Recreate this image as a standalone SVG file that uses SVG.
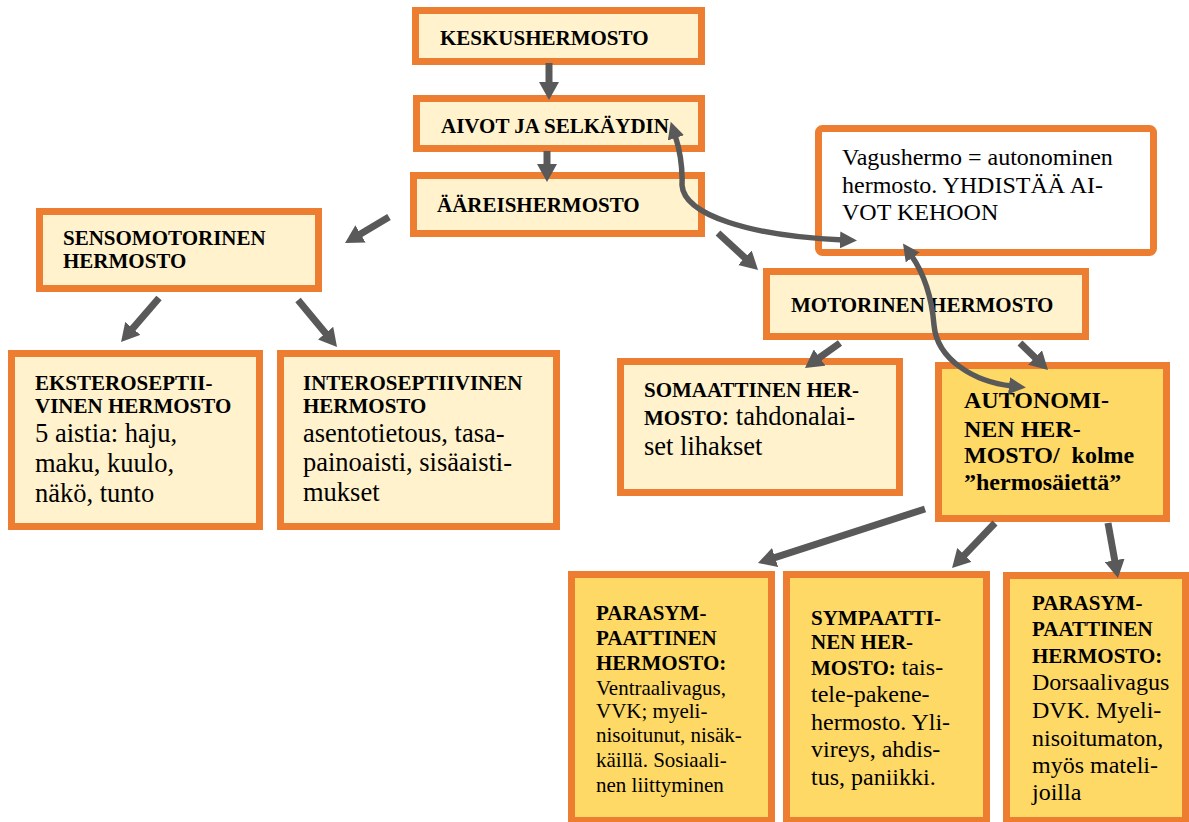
<svg xmlns="http://www.w3.org/2000/svg" width="1189" height="822" viewBox="0 0 1189 822">
<style>
.box{fill:#FFF2CC;stroke:#ED7D31;stroke-width:7}
.dark{fill:#FFD966;stroke:#ED7D31;stroke-width:7}
.white{fill:#FFFFFF;stroke:#ED7D31;stroke-width:7}
text{font-family:"Liberation Serif","Times New Roman",serif;fill:#000}
.b{font-weight:bold;font-size:21px}
.b24{font-weight:bold;font-size:24px}
.r26{font-size:26.5px}
.r24{font-size:24px}
.r21{font-size:21px}
.arr{stroke:#595959;stroke-width:7;fill:none;marker-end:url(#head)}
.cur{stroke:#595959;stroke-width:5.5;fill:none;marker-start:url(#head2);marker-end:url(#head2)}
</style>
<defs>
<marker id="head" markerUnits="userSpaceOnUse" markerWidth="18" markerHeight="20" refX="2" refY="10" orient="auto" viewBox="0 0 18 20">
<path d="M0,0 L18,10 L0,20 z" fill="#595959"/>
</marker>
<marker id="head2" markerUnits="userSpaceOnUse" markerWidth="17" markerHeight="17" refX="3" refY="8.5" orient="auto-start-reverse" viewBox="0 0 17 17">
<path d="M0,0 L17,8.5 L0,17 z" fill="#595959"/>
</marker>
</defs>
<rect width="1189" height="822" fill="#FFFFFF"/>

<g id="keskushermosto">
<rect class="box" x="415.5" y="10.5" width="286" height="51"/>
<text class="b" x="440" y="45">KESKUSHERMOSTO</text>
</g>
<g id="aivot">
<rect class="box" x="416.5" y="98.5" width="285" height="50"/>
<text class="b" x="441" y="133">AIVOT JA SELKÄYDIN</text>
</g>
<g id="aareishermosto">
<rect class="box" x="413.5" y="175.5" width="288" height="58"/>
<text class="b" x="437" y="212">ÄÄREISHERMOSTO</text>
</g>
<g id="vagus">
<rect class="white" x="818.5" y="128.5" width="335" height="124" rx="4"/>
<text class="r24" x="842" y="165">Vagushermo = autonominen</text>
<text class="r24" x="842" y="193">hermosto. YHDISTÄÄ AI-</text>
<text class="r24" x="842" y="220">VOT KEHOON</text>
</g>
<g id="sensomotorinen">
<rect class="box" x="39.5" y="211.5" width="279" height="77"/>
<text class="b" x="63" y="245">SENSOMOTORINEN</text>
<text class="b" x="63" y="268">HERMOSTO</text>
</g>
<g id="motorinen">
<rect class="box" x="766.5" y="271.5" width="319" height="65"/>
<text class="b" x="791" y="312">MOTORINEN HERMOSTO</text>
</g>
<g id="eksteroseptiivinen">
<rect class="box" x="11.5" y="353.5" width="248" height="173"/>
<text class="b" x="35" y="390">EKSTEROSEPTII-</text>
<text class="b" x="35" y="413">VINEN HERMOSTO</text>
<text class="r26" x="35" y="442">5 aistia: haju,</text>
<text class="r26" x="35" y="472">maku, kuulo,</text>
<text class="r26" x="35" y="502">näkö, tunto</text>
</g>
<g id="interoseptiivinen">
<rect class="box" x="280.5" y="353.5" width="276" height="173"/>
<text class="b" x="303" y="390">INTEROSEPTIIVINEN</text>
<text class="b" x="303" y="413">HERMOSTO</text>
<text class="r26" x="303" y="442">asentotietous, tasa-</text>
<text class="r26" x="303" y="471">painoaisti, sisäaisti-</text>
<text class="r26" x="303" y="501">mukset</text>
</g>
<g id="somaattinen">
<rect class="box" x="620.5" y="361.5" width="279" height="131"/>
<text class="b" x="644" y="397">SOMAATTINEN HER-</text>
<text x="644" y="425"><tspan class="b">MOSTO</tspan><tspan class="r26">: tahdonalai-</tspan></text>
<text class="r26" x="644" y="455">set lihakset</text>
</g>
<g id="autonominen">
<rect class="dark" x="938.5" y="365.5" width="228" height="153"/>
<text class="b24" x="964" y="408">AUTONOMI-</text>
<text class="b24" x="964" y="437">NEN HER-</text>
<text class="b24" x="964" y="463" xml:space="preserve">MOSTO/  kolme</text>
<text class="b24" x="964" y="490">”hermosäiettä”</text>
</g>
<g id="parasympaattinen-ventraali">
<rect class="dark" x="571.5" y="574.5" width="200" height="246"/>
<text class="b" x="596" y="620">PARASYM-</text>
<text class="b" x="596" y="645">PAATTINEN</text>
<text class="b" x="596" y="670">HERMOSTO:</text>
<text class="r21" x="596" y="695">Ventraalivagus,</text>
<text class="r21" x="596" y="718">VVK; myeli-</text>
<text class="r21" x="596" y="742">nisoitunut, nisäk-</text>
<text class="r21" x="596" y="767">käillä. Sosiaali-</text>
<text class="r21" x="596" y="792">nen liittyminen</text>
</g>
<g id="sympaattinen">
<rect class="dark" x="786.5" y="574.5" width="200" height="246"/>
<text class="b" x="811" y="625">SYMPAATTI-</text>
<text class="b" x="811" y="649">NEN HER-</text>
<text x="811" y="675"><tspan class="b">MOSTO:</tspan><tspan class="r24"> tais-</tspan></text>
<text class="r24" x="811" y="702">tele-pakene-</text>
<text class="r24" x="811" y="730">hermosto. Yli-</text>
<text class="r24" x="811" y="757">vireys, ahdis-</text>
<text class="r24" x="811" y="785">tus, paniikki.</text>
</g>
<g id="parasympaattinen-dorsaali">
<rect class="dark" x="1006.5" y="575.5" width="179" height="245"/>
<text class="b" x="1032" y="610">PARASYM-</text>
<text class="b" x="1032" y="636">PAATTINEN</text>
<text class="b" x="1032" y="663">HERMOSTO:</text>
<text class="r24" x="1032" y="690">Dorsaalivagus</text>
<text class="r24" x="1032" y="718">DVK. Myeli-</text>
<text class="r24" x="1032" y="746">nisoitumaton,</text>
<text class="r24" x="1032" y="773">myös mateli-</text>
<text class="r24" x="1032" y="800">joilla</text>
</g>

<g id="connectors">
<line class="arr" x1="549" y1="63" x2="549" y2="84"/>
<line class="arr" x1="547" y1="151" x2="547" y2="166"/>
<line class="arr" x1="389" y1="217" x2="358.8" y2="234.9"/>
<line class="arr" x1="159" y1="298" x2="131.5" y2="329.9"/>
<line class="arr" x1="298" y1="300" x2="326.8" y2="334.7"/>
<line class="arr" x1="718" y1="233" x2="746.3" y2="259.1"/>
<line class="arr" x1="840" y1="343" x2="818" y2="358.7"/>
<line class="arr" x1="1020" y1="343" x2="1036.5" y2="358.9"/>
<line class="arr" x1="925" y1="509" x2="773.2" y2="558.1"/>
<line class="arr" x1="995" y1="523" x2="963.1" y2="556.4"/>
<line class="arr" x1="1108" y1="523" x2="1115.1" y2="562.3"/>
<path class="cur" d="M675,135 Q683,160 682,185 C684,215 750,236 843,240"/>
<path class="cur" d="M911,255 C925,275 932,300 934,325 C937,360 975,382 1012,386"/>
</g>
</svg>
